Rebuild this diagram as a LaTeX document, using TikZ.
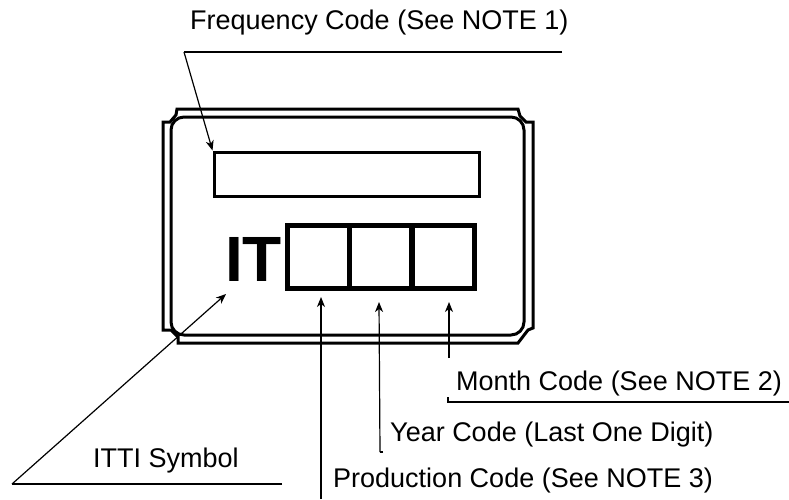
\documentclass[tikz,border=0pt]{standalone}
\usepackage{fontspec}
\setmainfont{Liberation Sans}
\usetikzlibrary{positioning,arrows.meta}
\tikzset{>={Stealth[length=10pt,width=8pt,inset=3pt]}}
\tikzset{lead/.style={line width=1.2pt}}
\tikzset{txt/.style={inner sep=0pt,anchor=base west,font=\fontsize{27}{30}\selectfont}}
\tikzset{cell/.style={draw,line width=5pt,minimum width=62pt,minimum height=63pt,inner sep=0pt}}
\tikzset{body/.style={line width=3pt,line join=miter}}

\begin{document}
\begin{tikzpicture}[x=1pt,y=-1pt]
	\useasboundingbox (0,0) rectangle (789,499);
	% package outline
	\draw[body] (177,109) -- (518,109) -- (520,116) -- (526,122) -- (533,122) -- (533,328)
		-- (528,330) -- (518,343) -- (178,343) -- (178,337) -- (171,330) -- (163,330)
		-- (163,122) -- (170,122) -- (176,115) -- cycle;
	\draw[body,rounded corners=13pt] (171,117) rectangle (524,335);
	% marking fields
	\node[draw,line width=3pt,minimum width=265pt,minimum height=44pt,inner sep=0pt] (freq) at (346.5,174) {};
	\node[cell] (c1) at (318,256.5) {};
	\node[cell] (c2) at (380.5,256.5) {};
	\node[cell] (c3) at (443,256.5) {};
	\node[inner sep=0pt,anchor=base west,font=\fontsize{64}{70}\selectfont\bfseries] (it) at (225,281) {IT};

	\coordinate (fs) at (184,52);
	\coordinate (fe) at (562,52);
	\coordinate (is) at (12,484);
	\coordinate (ie) at (282,484);
	\coordinate (itip) at (226,294);
	\coordinate (ps) at (321,499);
	\coordinate (ptip) at (321,297);
	\coordinate (ys) at (380,452);
	\coordinate (yf) at (383,452);
	\coordinate (ytip) at (379,302);
	\coordinate (ms) at (449,358);
	\coordinate (mtip) at (449,302);
	\coordinate (mk) at (448,397);
	\coordinate (mc) at (448,402);
	\coordinate (me) at (789,402);

	\draw[lead] (fe) -- (fs);
	\draw[lead,->] (fs) -- (freq.north west);
	\draw[lead] (ie) -- (is);
	\draw[lead,->] (is) -- (itip);
	\draw[lead,->] (ps) -- (ptip);
	\draw[lead] (yf) -- (ys);
	\draw[lead,->] (ys) -- (ytip);
	\draw[lead,->] (ms) -- (mtip);
	\draw[lead] (mk) -- (mc) -- (me);

	\node[txt] (tfreq) at (190,29) {Frequency Code (See NOTE 1)};
	\node[txt] (titti) at (93,467) {ITTI Symbol};
	\node[txt] (tmonth) at (456,390) {Month Code (See NOTE 2)};
	\node[txt] (tyear) at (390,441) {Year Code (Last One Digit)};
	\node[txt] (tprod) at (333,487) {Production Code (See NOTE 3)};
\end{tikzpicture}
\end{document}
